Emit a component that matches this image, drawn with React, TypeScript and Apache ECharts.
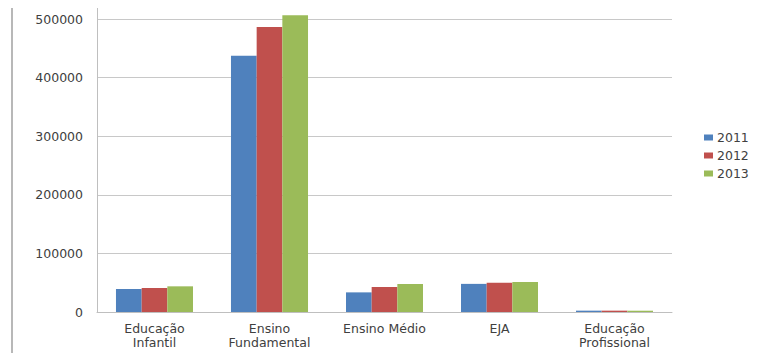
import React, { useEffect, useRef } from "react";
import * as echarts from "echarts";

const categories = ["Educação\nInfantil", "Ensino\nFundamental", "Ensino Médio", "EJA", "Educação\nProfissional"];
const years = ["2011", "2012", "2013"];
const values2011 = [39300, 437400, 33500, 48000, 2300];
const values2012 = [41000, 486300, 42700, 50000, 2300];
const values2013 = [43800, 506300, 47800, 51200, 2200];
const colors = ["#4F81BD", "#C0504D", "#9BBB59"];

export default function App() {
  const ref = useRef<HTMLDivElement>(null);
  useEffect(() => {
    if (!ref.current) return;
    const chart = echarts.init(ref.current, undefined, { renderer: "svg" });
    const font = "DejaVu Sans";
    const seriesData = [values2011, values2012, values2013];
    chart.setOption({
      animation: false,
      backgroundColor: "#ffffff",
      color: colors,
      textStyle: { fontFamily: font },
      grid: { left: 97, right: 89, top: 19, bottom: 44, containLabel: false },
      legend: {
        orient: "vertical",
        left: 699,
        top: 126,
        itemWidth: 9,
        itemHeight: 6,
        itemGap: 5,
        icon: "rect",
        textStyle: { fontFamily: font, fontSize: 12.5, color: "#404040", padding: [0, 0, 0, -1] },
        data: years,
      },
      xAxis: {
        type: "category",
        data: categories,
        axisLine: { show: true, lineStyle: { color: "#bfbfbf", width: 1 } },
        axisTick: { show: false },
        axisLabel: {
          fontFamily: font,
          fontSize: 12.5,
          color: "#404040",
          lineHeight: 13.5,
          margin: 10,
          interval: 0,
        },
      },
      yAxis: {
        type: "value",
        min: 0,
        max: 500000,
        interval: 100000,
        axisLine: { show: true, lineStyle: { color: "#bfbfbf", width: 1 } },
        axisTick: { show: false },
        splitLine: { show: true, lineStyle: { color: "#c8c8c8", width: 1 } },
        axisLabel: {
          fontFamily: font,
          fontSize: 12.5,
          color: "#404040",
          margin: 14,
          formatter: (v: number) => String(v),
        },
      },
      graphic: [
        { type: "line", shape: { x1: 12, y1: 8, x2: 12, y2: 353 }, style: { stroke: "#a0a0a0", lineWidth: 1.5 } },
        { type: "line", shape: { x1: 97.5, y1: 8, x2: 97.5, y2: 19 }, style: { stroke: "#bfbfbf", lineWidth: 1 } },
      ],
      series: years.map((y, i) => ({
        name: y,
        type: "bar",
        data: seriesData[i],
        barGap: "0%",
        barCategoryGap: "33%",
        clip: false,
        itemStyle: { color: colors[i] },
      })),
    });
    return () => chart.dispose();
  }, []);
  return <div ref={ref} style={{ position: "fixed", left: 0, top: 0, width: 761, height: 356 }} />;
}
